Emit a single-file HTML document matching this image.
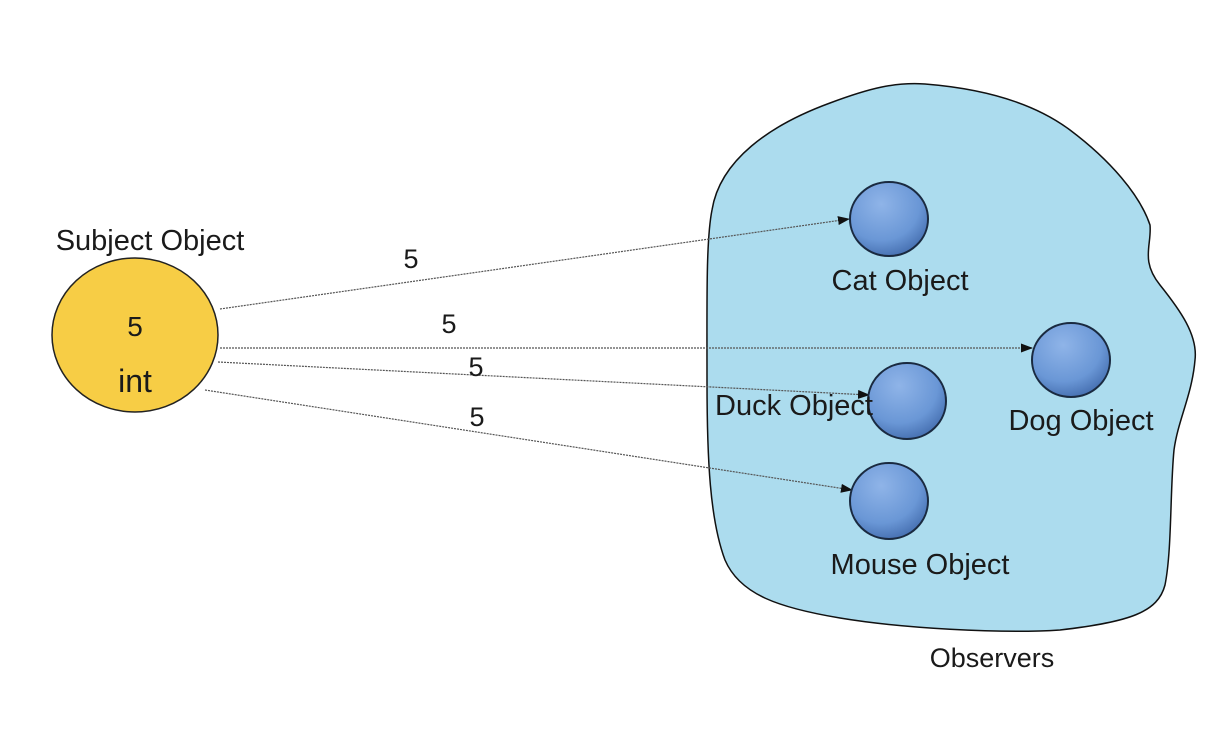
<!DOCTYPE html>
<html><head><style>
html,body{margin:0;padding:0;background:#fff;}
svg{display:block;}
text{font-family:"Liberation Sans",sans-serif;fill:#1a1a1a;}
</style></head><body>
<svg width="1224" height="732" viewBox="0 0 1224 732" xmlns="http://www.w3.org/2000/svg">
<defs>
<radialGradient id="bg" cx="0.4" cy="0.3" r="0.7">
<stop offset="0" stop-color="#8fb4e8"/><stop offset="0.7" stop-color="#6a97d6"/><stop offset="1" stop-color="#4a74b5"/>
</radialGradient>
<marker id="ar" markerWidth="12" markerHeight="9" refX="11" refY="4.5" orient="auto" markerUnits="userSpaceOnUse">
<path d="M0,0 L12,4.5 L0,9 Z" fill="#111"/></marker>
</defs>
<path d="M712,210 C720,160 770,125 830,103 C870,88 895,82 925,84 C975,88 1030,100 1070,130 C1110,160 1140,195 1150,225 C1152,245 1140,260 1160,285 C1180,310 1198,335 1195,360 C1192,395 1178,420 1174,450 C1170,490 1172,550 1165,585 C1158,612 1130,622 1060,630 C1000,634 900,628 840,618 C780,608 740,595 725,560 C710,520 707,460 707,380 C707,300 706,240 712,210 Z" fill="#acdcee" stroke="#111" stroke-width="1.5"/>
<ellipse cx="135" cy="335" rx="83" ry="77" fill="#f7cd45" stroke="#222" stroke-width="1.5"/>
<g stroke="#555" stroke-width="1.2" stroke-dasharray="2,1" fill="none">
<line x1="220" y1="309" x2="849" y2="219" marker-end="url(#ar)"/>
<line x1="220" y1="348" x2="1032" y2="348" marker-end="url(#ar)"/>
<line x1="218" y1="362" x2="869" y2="395" marker-end="url(#ar)"/>
<line x1="205" y1="390" x2="852" y2="490" marker-end="url(#ar)"/>
</g>
<g fill="url(#bg)" stroke="#1a2a40" stroke-width="2">
<ellipse cx="889" cy="219" rx="39" ry="37"/>
<ellipse cx="1071" cy="360" rx="39" ry="37"/>
<ellipse cx="907" cy="401" rx="39" ry="38"/>
<ellipse cx="889" cy="501" rx="39" ry="38"/>
</g>
<g font-size="29" text-anchor="middle">
<text x="150" y="250">Subject Object</text>
<text x="135" y="336" font-size="28">5</text>
<text x="135" y="392" font-size="32">int</text>
<text x="411" y="268" font-size="27">5</text>
<text x="449" y="333" font-size="27">5</text>
<text x="476" y="376" font-size="27">5</text>
<text x="477" y="426" font-size="27">5</text>
<text x="900" y="290">Cat Object</text>
<text x="1081" y="430">Dog Object</text>
<text x="794" y="415">Duck Object</text>
<text x="920" y="574">Mouse Object</text>
<text x="992" y="667" font-size="27">Observers</text>
</g>
</svg>
</body></html>
